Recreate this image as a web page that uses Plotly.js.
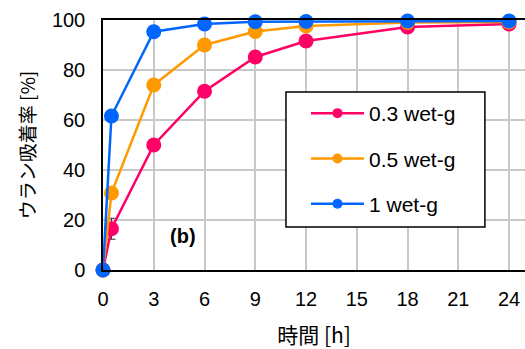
<!DOCTYPE html>
<html><head><meta charset="utf-8">
<script src="https://cdn.plot.ly/plotly-3.0.1.min.js"></script>
<style>body{margin:0}#c{width:525px;height:349px}</style>
</head><body><div id="c"></div>
<script>
const hours = [0, 0.5, 3, 6, 9, 12, 18, 24];
const s03 = [0, 16.5, 50, 71.5, 85.2, 91.6, 97.2, 98.4];
const s05 = [0, 30.8, 74, 90, 95.4, 97.6, 99.0, 99.2];
const s1  = [0, 61.6, 95.3, 98.4, 99.3, 99.4, 99.6, 99.6];
const err03 = [0, 4.2, 0, 0, 0, 0, 0, 0];
const names = ['0.3 wet-g', '0.5 wet-g', '1 wet-g'];
const colors = ['#FF0066', '#FF9900', '#0066FF'];
const xticks = [0, 3, 6, 9, 12, 15, 18, 21, 24];
const yticks = [0, 20, 40, 60, 80, 100];

const series = [s03, s05, s1];
const F = 'Liberation Sans, Arial, Noto Sans CJK JP, sans-serif';
const J = 'Noto Sans CJK JP, Liberation Sans, sans-serif';
const traces = [];
series.forEach((s, i) => {
  const t = {x: hours, y: s, mode: 'lines+markers', showlegend: false, cliponaxis: false,
    line: {color: colors[i], width: 2.5}, marker: {color: colors[i], size: 15}};
  if (i === 0) t.error_y = {type: 'data', array: err03, visible: true, color: '#333', thickness: 1, width: 4};
  traces.push(t);
});
series.forEach((s, i) => {
  traces.push({x: [null], y: [null], mode: 'lines+markers', name: names[i], legendgroup: 'g' + i,
    line: {color: colors[i], width: 2.5}, marker: {color: colors[i], size: 10}});
});

Plotly.newPlot('c', traces, {
  width: 525, height: 349,
  margin: {l: 103, r: 0, t: 20, b: 79},
  paper_bgcolor: '#fff', plot_bgcolor: '#fff',
  font: {family: F, size: 20, color: '#000'},
  xaxis: {range: [0, 24.94], tickvals: xticks, showgrid: true, gridcolor: '#C8C8C8', gridwidth: 1.5,
    showline: true, linecolor: '#000', linewidth: 1.5, mirror: true, zeroline: false,
    ticks: 'outside', ticklen: 10, tickcolor: 'rgba(0,0,0,0)',
    title: {text: '時間 [h]', font: {family: J, size: 21}, standoff: 24}},
  yaxis: {range: [0, 100], tickvals: yticks, showgrid: true, gridcolor: '#C8C8C8', gridwidth: 1.5,
    showline: true, linecolor: '#000', linewidth: 1.5, mirror: true, zeroline: false,
    ticks: 'outside', ticklen: 12, tickcolor: 'rgba(0,0,0,0)',
    title: {text: 'ウラン吸着率 [%]', font: {family: J, size: 19}, standoff: 11}},
  shapes: [{type: 'rect', xref: 'paper', yref: 'paper', x0: 0.4336, x1: 0.905, y0: 0.172, y1: 0.712,
    line: {color: '#000', width: 1.5}, fillcolor: '#fff', layer: 'above'}],
  legend: {x: 0.481, y: 0.708, xanchor: 'left', yanchor: 'top', bgcolor: 'rgba(0,0,0,0)',
    borderwidth: 0, font: {family: F, size: 21},
    traceorder: 'grouped', tracegroupgap: 15, itemwidth: 53},
  annotations: [{x: 4.73, y: 13.6, xref: 'x', yref: 'y', text: '<b>(b)</b>', showarrow: false,
    font: {family: F, size: 20, color: '#000'}}]
}, {displayModeBar: false});
</script></body></html>
